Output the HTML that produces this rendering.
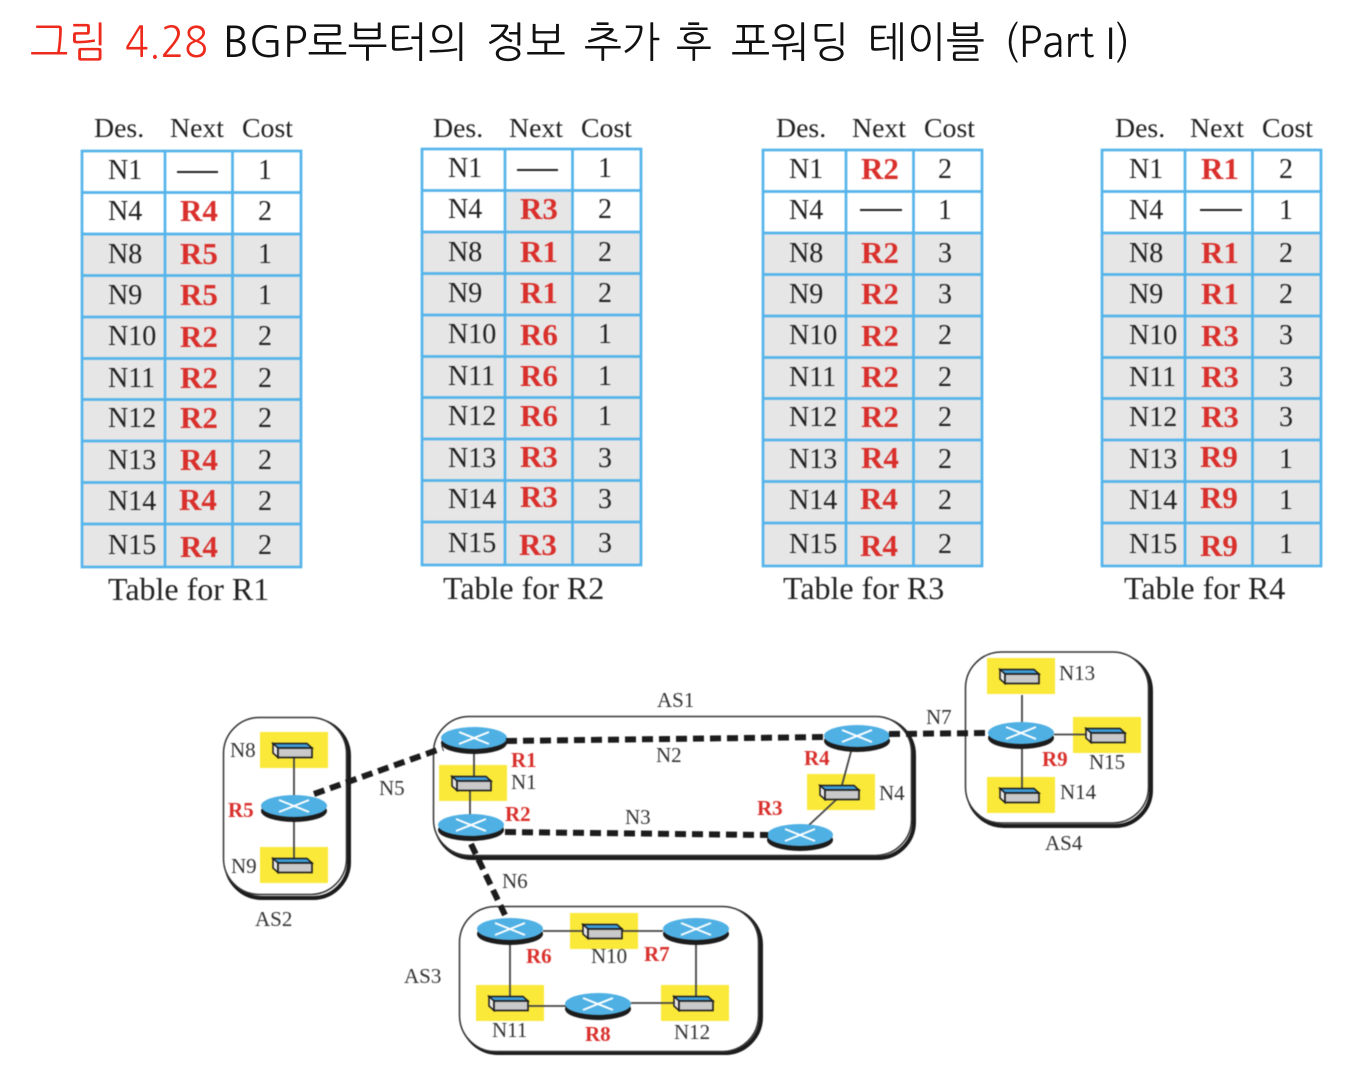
<!DOCTYPE html>
<html><head><meta charset="utf-8">
<style>
html,body{margin:0;padding:0;background:#fff}
svg{display:block}
.d,.c,.h,.t,.l{font-family:"Liberation Serif",serif;fill:#222}
.d,.c{font-size:28px}
.c{text-anchor:middle}
.n{font-family:"Liberation Serif",serif;font-weight:bold;font-size:31px;fill:#d9302c;text-anchor:middle}
.h{font-size:27.8px}
.t{font-size:32px}
.l{font-size:21px;fill:#333}
.r{font-family:"Liberation Serif",serif;font-weight:bold;font-size:21px;fill:#d9302c}
.ti{font-family:"NanumGothic","Noto Sans CJK KR",sans-serif;font-size:42px}
.soft{filter:blur(.45px)}
</style></head><body>
<svg xmlns="http://www.w3.org/2000/svg" width="1362" height="1092" viewBox="0 0 1362 1092">
<defs>
<g id="grid">
<rect x="82" y="151" width="219" height="83" fill="#fff"/>
<rect x="82" y="234" width="219" height="333" fill="#e6e6e6"/>
<path d="M82 192.500H301M82 234H301M82 275.500H301M82 317H301M82 358.500H301M82 399.500H301M82 441H301M82 482.500H301M82 524H301M165 151V567M232.500 151V567" fill="none" stroke="#55b4ea" stroke-width="2.700"/>
<rect x="82" y="151" width="219" height="416" fill="none" stroke="#55b4ea" stroke-width="2.700"/>
</g>
<g id="router">
<ellipse cx="0" cy="5" rx="33" ry="11" fill="#1c1c1c"/>
<ellipse cx="0" cy="0" rx="33" ry="11" fill="#4fb0e4"/>
<path d="M-15 -6L15 6M-15 6L15 -6" stroke="#fff" stroke-width="2" fill="none"/>
</g>
<rect id="ye" x="0" y="0" width="68" height="36" fill="#fbe93a"/>
<g id="sw">
<path d="M13 11.500H47L52 16H18Z" fill="#3f9fdc" stroke="#1c1c1c" stroke-width="1.500"/>
<path d="M13 11.500L18 16V25.500L13 21Z" fill="#e8e8e8" stroke="#1c1c1c" stroke-width="1.500"/>
<rect x="18" y="16" width="34" height="9.500" fill="#c9c9c9" stroke="#1c1c1c" stroke-width="1.600"/>
</g>
</defs>

<text class="ti" x="30" y="57" fill="#ee2a1c" textLength="77" lengthAdjust="spacingAndGlyphs">그림</text>
<text class="ti" x="125" y="57" fill="#ee2a1c" textLength="83" lengthAdjust="spacingAndGlyphs">4.28</text>
<g fill="#111">
<text class="ti" x="223" y="57" textLength="245" lengthAdjust="spacingAndGlyphs">BGP로부터의</text>
<text class="ti" x="486" y="57" textLength="80" lengthAdjust="spacingAndGlyphs">정보</text>
<text class="ti" x="584" y="57" textLength="76" lengthAdjust="spacingAndGlyphs">추가</text>
<text class="ti" x="676" y="57" textLength="36" lengthAdjust="spacingAndGlyphs">후</text>
<text class="ti" x="731" y="57" textLength="118" lengthAdjust="spacingAndGlyphs">포워딩</text>
<text class="ti" x="868" y="57" textLength="117" lengthAdjust="spacingAndGlyphs">테이블</text>
<text class="ti" x="1004" y="57" textLength="126" lengthAdjust="spacingAndGlyphs">(Part I)</text>
</g>

<g class="soft">
<!-- Table R1 -->
<g>
<text class="h" x="94" y="137">Des.</text><text class="h" x="170" y="137">Next</text><text class="h" x="242" y="137">Cost</text>
<use href="#grid"/>
<path d="M177 172H218" stroke="#222" stroke-width="2"/>
<text class="d" x="108" y="179">N1</text><text class="c" x="265" y="179">1</text>
<text class="d" x="108" y="220">N4</text><text class="n" x="199" y="221">R4</text><text class="c" x="265" y="220">2</text>
<text class="d" x="108" y="263">N8</text><text class="n" x="199" y="264">R5</text><text class="c" x="265" y="263">1</text>
<text class="d" x="108" y="304">N9</text><text class="n" x="199" y="305">R5</text><text class="c" x="265" y="304">1</text>
<text class="d" x="108" y="345">N10</text><text class="n" x="199" y="347">R2</text><text class="c" x="265" y="345">2</text>
<text class="d" x="108" y="387">N11</text><text class="n" x="199" y="388">R2</text><text class="c" x="265" y="387">2</text>
<text class="d" x="108" y="427">N12</text><text class="n" x="199" y="428">R2</text><text class="c" x="265" y="427">2</text>
<text class="d" x="108" y="469">N13</text><text class="n" x="199" y="470">R4</text><text class="c" x="265" y="469">2</text>
<text class="d" x="108" y="510">N14</text><text class="n" x="198" y="510">R4</text><text class="c" x="265" y="510">2</text>
<text class="d" x="108" y="554">N15</text><text class="n" x="199" y="557">R4</text><text class="c" x="265" y="554">2</text>
<text class="t" x="108" y="600">Table for R1</text>
</g>

<!-- Table R2 -->
<g transform="translate(340,-2)">
<text class="h" x="93" y="139">Des.</text><text class="h" x="169" y="139">Next</text><text class="h" x="241" y="139">Cost</text>
<use href="#grid"/>
<rect x="166.500" y="194" width="64.500" height="38.500" fill="#e6e6e6"/>
<path d="M177 172H218" stroke="#222" stroke-width="2"/>
<text class="d" x="108" y="179">N1</text><text class="c" x="265" y="179">1</text>
<text class="d" x="108" y="220">N4</text><text class="n" x="199" y="221">R3</text><text class="c" x="265" y="220">2</text>
<text class="d" x="108" y="263">N8</text><text class="n" x="199" y="264">R1</text><text class="c" x="265" y="263">2</text>
<text class="d" x="108" y="304">N9</text><text class="n" x="199" y="305">R1</text><text class="c" x="265" y="304">2</text>
<text class="d" x="108" y="345">N10</text><text class="n" x="199" y="347">R6</text><text class="c" x="265" y="345">1</text>
<text class="d" x="108" y="387">N11</text><text class="n" x="199" y="388">R6</text><text class="c" x="265" y="387">1</text>
<text class="d" x="108" y="427">N12</text><text class="n" x="199" y="428">R6</text><text class="c" x="265" y="427">1</text>
<text class="d" x="108" y="469">N13</text><text class="n" x="199" y="469">R3</text><text class="c" x="265" y="469">3</text>
<text class="d" x="108" y="510">N14</text><text class="n" x="199" y="509">R3</text><text class="c" x="265" y="510">3</text>
<text class="d" x="108" y="554">N15</text><text class="n" x="198" y="557">R3</text><text class="c" x="265" y="554">3</text>
<text class="t" x="103" y="601">Table for R2</text>
</g>

<!-- Table R3 -->
<g transform="translate(681,-1)">
<text class="h" x="95" y="138">Des.</text><text class="h" x="171" y="138">Next</text><text class="h" x="243" y="138">Cost</text>
<use href="#grid"/>
<path d="M179 211H221" stroke="#222" stroke-width="2"/>
<text class="d" x="108" y="179">N1</text><text class="n" x="199" y="180">R2</text><text class="c" x="264" y="179">2</text>
<text class="d" x="108" y="220">N4</text><text class="c" x="264" y="220">1</text>
<text class="d" x="108" y="263">N8</text><text class="n" x="199" y="264">R2</text><text class="c" x="264" y="263">3</text>
<text class="d" x="108" y="304">N9</text><text class="n" x="199" y="305">R2</text><text class="c" x="264" y="304">3</text>
<text class="d" x="108" y="345">N10</text><text class="n" x="199" y="347">R2</text><text class="c" x="264" y="345">2</text>
<text class="d" x="108" y="387">N11</text><text class="n" x="199" y="388">R2</text><text class="c" x="264" y="387">2</text>
<text class="d" x="108" y="427">N12</text><text class="n" x="199" y="428">R2</text><text class="c" x="264" y="427">2</text>
<text class="d" x="108" y="469">N13</text><text class="n" x="199" y="469">R4</text><text class="c" x="264" y="469">2</text>
<text class="d" x="108" y="510">N14</text><text class="n" x="198" y="510">R4</text><text class="c" x="264" y="510">2</text>
<text class="d" x="108" y="554">N15</text><text class="n" x="198" y="557">R4</text><text class="c" x="264" y="554">2</text>
<text class="t" x="102" y="600">Table for R3</text>
</g>

<!-- Table R4 -->
<g transform="translate(1020,-1)">
<text class="h" x="95" y="138">Des.</text><text class="h" x="170" y="138">Next</text><text class="h" x="242" y="138">Cost</text>
<use href="#grid"/>
<path d="M180 211H222" stroke="#222" stroke-width="2"/>
<text class="d" x="109" y="179">N1</text><text class="n" x="200" y="180">R1</text><text class="c" x="266" y="179">2</text>
<text class="d" x="109" y="220">N4</text><text class="c" x="266" y="220">1</text>
<text class="d" x="109" y="263">N8</text><text class="n" x="200" y="264">R1</text><text class="c" x="266" y="263">2</text>
<text class="d" x="109" y="304">N9</text><text class="n" x="200" y="305">R1</text><text class="c" x="266" y="304">2</text>
<text class="d" x="109" y="345">N10</text><text class="n" x="200" y="347">R3</text><text class="c" x="266" y="345">3</text>
<text class="d" x="109" y="387">N11</text><text class="n" x="200" y="388">R3</text><text class="c" x="266" y="387">3</text>
<text class="d" x="109" y="427">N12</text><text class="n" x="200" y="428">R3</text><text class="c" x="266" y="427">3</text>
<text class="d" x="109" y="469">N13</text><text class="n" x="199" y="468">R9</text><text class="c" x="266" y="469">1</text>
<text class="d" x="109" y="510">N14</text><text class="n" x="199" y="509">R9</text><text class="c" x="266" y="510">1</text>
<text class="d" x="109" y="554">N15</text><text class="n" x="199" y="557">R9</text><text class="c" x="266" y="554">1</text>
<text class="t" x="104" y="600">Table for R4</text>
</g>

<!-- AS boxes: shadow + outline -->
<g fill="none" stroke="#1c1c1c">
<rect x="226" y="720" width="123" height="178" rx="36" stroke-width="4"/>
<rect x="436" y="719" width="478" height="139" rx="36" stroke-width="4"/>
<rect x="968" y="655" width="183" height="171" rx="36" stroke-width="4"/>
<rect x="462" y="909" width="299" height="144" rx="36" stroke-width="4"/>
</g>
<g fill="#fff" stroke="#333" stroke-width="1.500">
<rect x="223.500" y="717.500" width="123" height="177" rx="36"/>
<rect x="433.500" y="716.500" width="478" height="139" rx="36"/>
<rect x="965.500" y="652" width="183" height="171" rx="36"/>
<rect x="459.500" y="906.500" width="299" height="145" rx="36"/>
</g>

<!-- yellow networks -->
<use href="#ye" x="260" y="732"/>
<use href="#ye" x="260" y="847"/>
<use href="#ye" x="439" y="765"/>
<use href="#ye" x="807" y="774"/>
<use href="#ye" x="987" y="658"/>
<use href="#ye" x="1073" y="717"/>
<use href="#ye" x="987" y="777"/>
<use href="#ye" x="570" y="913"/>
<use href="#ye" x="476" y="985"/>
<use href="#ye" x="661" y="985"/>

<!-- solid links -->
<g stroke="#444" stroke-width="1.800" fill="none">
<path d="M294 758V796M294 816V858"/>
<path d="M474 750V778M470 786V815"/>
<path d="M852 748L842 785M838 798L808 826"/>
<path d="M1022 695V722M1022 744V790M1054 734.500H1088"/>
<path d="M543 931H584M621 931H663"/>
<path d="M510 942V996M696 942V996"/>
<path d="M528 1006H566M631 1003H676"/>
</g>

<!-- switches -->
<use href="#sw" x="260" y="732"/>
<use href="#sw" x="260" y="847"/>
<use href="#sw" x="439" y="765"/>
<use href="#sw" x="807" y="774"/>
<use href="#sw" x="987" y="658"/>
<use href="#sw" x="1073" y="717"/>
<use href="#sw" x="987" y="777"/>
<use href="#sw" x="570" y="913"/>
<use href="#sw" x="476" y="985"/>
<use href="#sw" x="661" y="985"/>

<!-- routers -->
<use href="#router" x="294" y="806"/>
<use href="#router" x="474" y="738"/>
<use href="#router" x="471" y="825"/>
<use href="#router" x="857" y="736"/>
<use href="#router" x="800" y="835"/>
<use href="#router" x="1021" y="733"/>
<use href="#router" x="510" y="929"/>
<use href="#router" x="696" y="929"/>
<use href="#router" x="598" y="1004"/>

<!-- dashed links -->
<g stroke="#1c1c1c" stroke-width="6" fill="none" stroke-dasharray="11 6">
<path d="M314 794L443 748"/>
<path d="M506 741L826 737"/>
<path d="M505 832L768 835"/>
<path d="M471 844L505 915"/>
<path d="M889 734L988 733"/>
</g>

<!-- labels -->
<text class="l" x="230" y="757">N8</text>
<text class="l" x="231" y="873">N9</text>
<text class="l" x="379" y="795">N5</text>
<text class="l" x="255" y="926">AS2</text>
<text class="l" x="657" y="707">AS1</text>
<text class="l" x="511" y="789">N1</text>
<text class="l" x="656" y="762">N2</text>
<text class="l" x="625" y="824">N3</text>
<text class="l" x="879" y="800">N4</text>
<text class="l" x="926" y="724">N7</text>
<text class="l" x="502" y="888">N6</text>
<text class="l" x="1059" y="680">N13</text>
<text class="l" x="1089" y="769">N15</text>
<text class="l" x="1060" y="799">N14</text>
<text class="l" x="1045" y="850">AS4</text>
<text class="l" x="404" y="983">AS3</text>
<text class="l" x="591" y="963">N10</text>
<text class="l" x="492" y="1037">N11</text>
<text class="l" x="674" y="1039">N12</text>
<text class="r" x="228" y="817">R5</text>
<text class="r" x="511" y="767">R1</text>
<text class="r" x="505" y="821">R2</text>
<text class="r" x="757" y="815">R3</text>
<text class="r" x="804" y="765">R4</text>
<text class="r" x="1042" y="766">R9</text>
<text class="r" x="526" y="963">R6</text>
<text class="r" x="644" y="961">R7</text>
<text class="r" x="585" y="1041">R8</text>
</g>
</svg>
</body></html>
